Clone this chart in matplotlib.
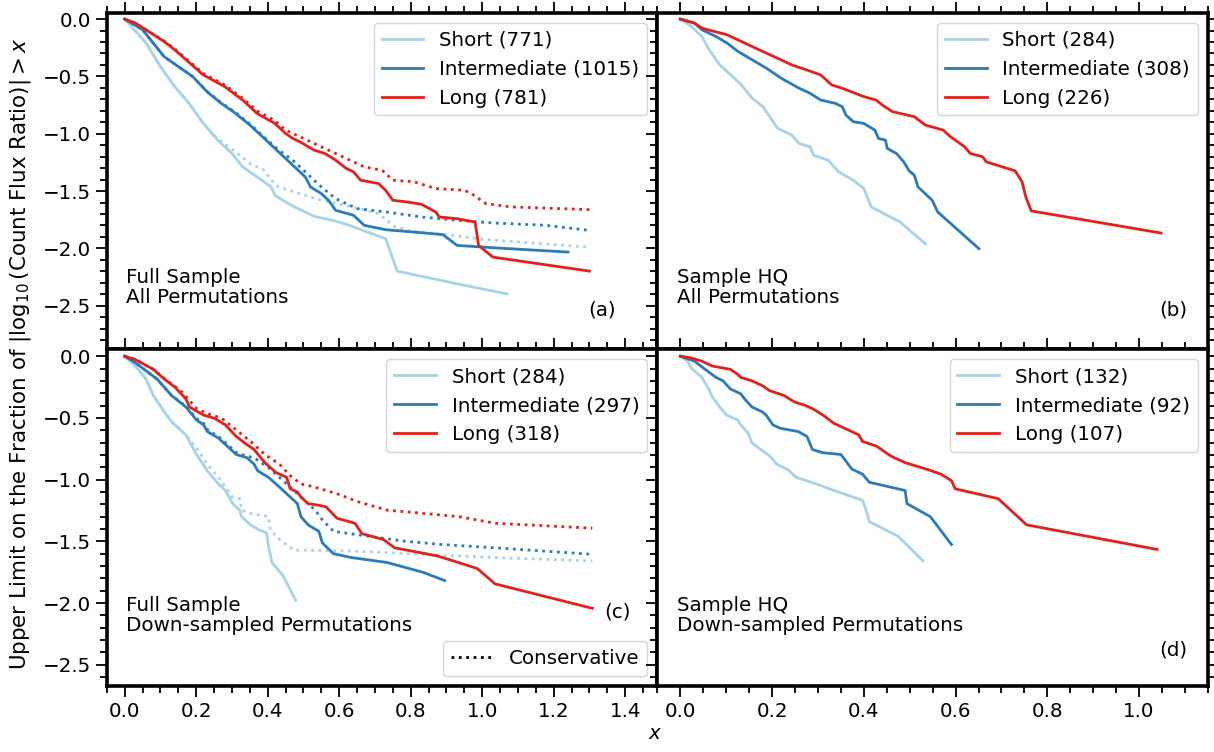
import numpy as np
import matplotlib
matplotlib.use('Agg')
import matplotlib.pyplot as plt
from matplotlib.ticker import MultipleLocator
from matplotlib.lines import Line2D

COL_S = '#a6d3e6'
COL_I = '#2b7bba'
COL_L = '#e3211c'

# ---- (a) Full sample, all permutations ----
a_short_x = [0, 0.06, 0.10, 0.14, 0.18, 0.22, 0.26, 0.30, 0.33, 0.37, 0.41, 0.42, 0.45, 0.475,
             0.53, 0.59, 0.63, 0.67, 0.73, 0.745, 0.762, 0.93, 1.07]
a_short_y = [0, -0.21, -0.414, -0.589, -0.735, -0.91, -1.055, -1.172, -1.289, -1.376, -1.464, -1.536,
             -1.595, -1.638, -1.72, -1.761, -1.80, -1.848, -1.915, -2.047, -2.198, -2.309, -2.397]
a_short_cx = [0, 0.06, 0.10, 0.14, 0.18, 0.22, 0.26, 0.31, 0.35, 0.39, 0.41, 0.43, 0.49, 0.55,
              0.63, 0.71, 0.755, 0.80, 0.90, 1.0, 1.30]
a_short_cy = [0, -0.21, -0.414, -0.589, -0.735, -0.91, -1.045, -1.157, -1.259, -1.318, -1.405, -1.464,
              -1.522, -1.58, -1.633, -1.697, -1.81, -1.85, -1.88, -1.92, -1.99]
a_int_x = [0, 0.05, 0.11, 0.15, 0.19, 0.23, 0.27, 0.31, 0.35, 0.39, 0.43, 0.47, 0.505, 0.52, 0.55,
           0.57, 0.59, 0.64, 0.67, 0.73, 0.83, 0.89, 0.93, 1.03, 1.24]
a_int_y = [0, -0.093, -0.327, -0.414, -0.501, -0.633, -0.735, -0.822, -0.924, -1.04, -1.157, -1.274,
           -1.376, -1.464, -1.522, -1.58, -1.668, -1.711, -1.799, -1.837, -1.863, -1.88, -1.974,
           -1.994, -2.032]
a_int_cx = [0, 0.05, 0.11, 0.15, 0.19, 0.23, 0.27, 0.31, 0.35, 0.39, 0.43, 0.47, 0.51, 0.55, 0.59,
            0.65, 0.73, 0.83, 0.93, 1.03, 1.18, 1.30]
a_int_cy = [0, -0.093, -0.327, -0.414, -0.501, -0.63, -0.73, -0.815, -0.915, -1.03, -1.14, -1.23,
            -1.347, -1.464, -1.566, -1.653, -1.682, -1.726, -1.755, -1.778, -1.799, -1.843]
a_long_x = [0, 0.03, 0.11, 0.14, 0.22, 0.28, 0.33, 0.37, 0.42, 0.45, 0.47, 0.49, 0.53, 0.56, 0.59,
            0.62, 0.64, 0.66, 0.71, 0.73, 0.75, 0.79, 0.83, 0.87, 0.88, 0.93, 0.98, 0.99, 1.03, 1.30]
a_long_y = [0, -0.035, -0.195, -0.268, -0.487, -0.589, -0.706, -0.822, -0.91, -0.997, -1.04, -1.07,
            -1.143, -1.172, -1.23, -1.303, -1.332, -1.405, -1.434, -1.493, -1.58, -1.595, -1.615,
            -1.682, -1.726, -1.741, -1.77, -1.974, -2.076, -2.198]
a_long_cx = [0, 0.03, 0.11, 0.14, 0.22, 0.28, 0.33, 0.37, 0.42, 0.45, 0.51, 0.57, 0.63, 0.67, 0.72,
             0.75, 0.81, 0.87, 0.95, 0.97, 1.01, 1.08, 1.30]
a_long_cy = [0, -0.035, -0.19, -0.26, -0.475, -0.575, -0.69, -0.80, -0.885, -0.968, -1.055, -1.143,
             -1.23, -1.289, -1.318, -1.405, -1.42, -1.478, -1.493, -1.522, -1.609, -1.638, -1.662]

# ---- (b) Sample HQ, all permutations ----
b_short_x = [0, 0.024, 0.047, 0.063, 0.086, 0.11, 0.133, 0.157, 0.18, 0.212, 0.243, 0.259, 0.283,
             0.29, 0.322, 0.345, 0.377, 0.40, 0.416, 0.479, 0.534]
b_short_y = [0, -0.064, -0.152, -0.268, -0.40, -0.487, -0.574, -0.691, -0.764, -0.953, -1.012,
             -1.085, -1.114, -1.187, -1.23, -1.332, -1.405, -1.478, -1.638, -1.77, -1.959]
b_int_x = [0, 0.031, 0.047, 0.078, 0.102, 0.126, 0.157, 0.188, 0.22, 0.259, 0.283, 0.306, 0.338,
           0.353, 0.361, 0.377, 0.40, 0.424, 0.432, 0.447, 0.451, 0.471, 0.487, 0.499, 0.51, 0.518,
           0.549, 0.561, 0.651]
b_int_y = [0, -0.035, -0.093, -0.152, -0.21, -0.283, -0.356, -0.429, -0.516, -0.603, -0.647, -0.706,
           -0.735, -0.764, -0.837, -0.895, -0.91, -0.968, -1.041, -1.055, -1.128, -1.172, -1.245,
           -1.324, -1.361, -1.464, -1.58, -1.682, -2.003]
b_long_x = [0, 0.031, 0.047, 0.102, 0.133, 0.18, 0.22, 0.243, 0.275, 0.306, 0.33, 0.353, 0.40,
            0.427, 0.44, 0.463, 0.51, 0.534, 0.573, 0.589, 0.62, 0.632, 0.659, 0.667, 0.73, 0.745,
            0.753, 0.765, 1.048]
b_long_y = [0, -0.035, -0.079, -0.137, -0.195, -0.283, -0.356, -0.40, -0.443, -0.487, -0.574,
            -0.603, -0.676, -0.706, -0.749, -0.808, -0.851, -0.924, -0.968, -1.026, -1.114, -1.172,
            -1.201, -1.245, -1.324, -1.42, -1.551, -1.673, -1.866]

# ---- (c) Full sample, down-sampled permutations ----
c_short_x = [0, 0.03, 0.06, 0.08, 0.111, 0.131, 0.171, 0.201, 0.231, 0.262, 0.282, 0.302, 0.322,
             0.327, 0.352, 0.372, 0.397, 0.402, 0.412, 0.443, 0.478]
c_short_y = [0, -0.08, -0.186, -0.318, -0.451, -0.531, -0.637, -0.796, -0.928, -1.034, -1.088,
             -1.194, -1.247, -1.30, -1.366, -1.401, -1.432, -1.538, -1.671, -1.777, -1.976]
c_short_cx = [0, 0.03, 0.06, 0.08, 0.111, 0.131, 0.171, 0.201, 0.231, 0.262, 0.302, 0.322, 0.327,
              0.352, 0.402, 0.407, 0.433, 0.473, 0.634, 0.835, 1.036, 1.308]
c_short_cy = [0, -0.08, -0.186, -0.318, -0.451, -0.531, -0.637, -0.743, -0.875, -0.981, -1.141,
              -1.154, -1.247, -1.273, -1.30, -1.406, -1.485, -1.57, -1.578, -1.605, -1.631, -1.658]
c_int_x = [0, 0.03, 0.091, 0.131, 0.171, 0.201, 0.221, 0.231, 0.262, 0.282, 0.312, 0.342, 0.362,
           0.372, 0.402, 0.423, 0.453, 0.483, 0.493, 0.513, 0.543, 0.553, 0.584, 0.634, 0.734,
           0.835, 0.895]
c_int_y = [0, -0.053, -0.186, -0.318, -0.411, -0.517, -0.557, -0.61, -0.663, -0.716, -0.796,
           -0.822, -0.875, -0.928, -0.981, -1.034, -1.114, -1.194, -1.30, -1.366, -1.419, -1.512,
           -1.60, -1.631, -1.671, -1.751, -1.817]
c_int_cx = [0, 0.03, 0.091, 0.131, 0.171, 0.201, 0.221, 0.231, 0.262, 0.282, 0.312, 0.342, 0.362,
            0.402, 0.453, 0.493, 0.533, 0.553, 0.584, 0.684, 0.785, 0.885, 1.036, 1.308]
c_int_cy = [0, -0.053, -0.186, -0.318, -0.405, -0.505, -0.545, -0.595, -0.65, -0.70, -0.78,
            -0.81, -0.822, -0.902, -1.034, -1.141, -1.247, -1.326, -1.419, -1.459, -1.499, -1.525,
            -1.552, -1.605]
c_long_x = [0, 0.03, 0.08, 0.111, 0.141, 0.171, 0.181, 0.221, 0.252, 0.282, 0.312, 0.342, 0.362,
            0.392, 0.423, 0.453, 0.463, 0.483, 0.493, 0.513, 0.543, 0.563, 0.594, 0.644, 0.664,
            0.724, 0.755, 0.875, 0.986, 1.036, 1.308]
c_long_y = [0, -0.027, -0.106, -0.186, -0.252, -0.345, -0.411, -0.477, -0.504, -0.557, -0.65,
            -0.716, -0.756, -0.862, -0.942, -0.981, -1.074, -1.10, -1.141, -1.194, -1.207, -1.22,
            -1.313, -1.353, -1.438, -1.485, -1.552, -1.618, -1.719, -1.844, -2.042]
c_long_cx = [0, 0.03, 0.08, 0.111, 0.141, 0.161, 0.201, 0.231, 0.272, 0.312, 0.352, 0.392, 0.433,
             0.463, 0.493, 0.533, 0.594, 0.654, 0.734, 0.835, 0.936, 1.036, 1.308]
c_long_cy = [0, -0.027, -0.106, -0.18, -0.245, -0.292, -0.424, -0.464, -0.504, -0.597, -0.69,
             -0.796, -0.875, -0.968, -1.034, -1.061, -1.114, -1.18, -1.247, -1.273, -1.30, -1.353,
             -1.393]

# ---- (d) Sample HQ, down-sampled permutations ----
d_short_x = [0, 0.016, 0.023, 0.047, 0.062, 0.070, 0.086, 0.101, 0.125, 0.132, 0.148, 0.156, 0.171,
             0.195, 0.21, 0.233, 0.253, 0.296, 0.335, 0.397, 0.405, 0.412, 0.475, 0.529]
d_short_y = [0, -0.04, -0.093, -0.172, -0.265, -0.332, -0.411, -0.477, -0.517, -0.557, -0.623,
             -0.703, -0.743, -0.809, -0.875, -0.915, -0.981, -1.034, -1.088, -1.167, -1.247, -1.34,
             -1.459, -1.658]
d_int_x = [0, 0.031, 0.054, 0.078, 0.093, 0.109, 0.132, 0.14, 0.156, 0.179, 0.187, 0.202, 0.218,
           0.257, 0.276, 0.288, 0.311, 0.35, 0.374, 0.397, 0.412, 0.49, 0.494, 0.545, 0.591]
d_int_y = [0, -0.04, -0.106, -0.172, -0.199, -0.265, -0.305, -0.345, -0.411, -0.451, -0.477,
           -0.557, -0.584, -0.61, -0.65, -0.756, -0.782, -0.796, -0.915, -0.955, -1.021, -1.088,
           -1.194, -1.30, -1.525]
d_long_x = [0, 0.023, 0.047, 0.07, 0.109, 0.125, 0.132, 0.156, 0.179, 0.195, 0.226, 0.249, 0.272,
            0.288, 0.311, 0.335, 0.366, 0.389, 0.397, 0.428, 0.459, 0.49, 0.537, 0.568, 0.591,
            0.599, 0.693, 0.755, 1.039]
d_long_y = [0, -0.013, -0.04, -0.08, -0.106, -0.146, -0.172, -0.199, -0.239, -0.279, -0.318,
            -0.371, -0.398, -0.424, -0.477, -0.544, -0.597, -0.637, -0.69, -0.729, -0.809, -0.862,
            -0.915, -0.955, -1.008, -1.074, -1.154, -1.366, -1.565]

counts = {'a': (771, 1015, 781), 'b': (284, 308, 226), 'c': (284, 297, 318), 'd': (132, 92, 107)}
samples = {'a': 'Full Sample\nAll Permutations', 'b': 'Sample HQ\nAll Permutations',
           'c': 'Full Sample\nDown-sampled Permutations', 'd': 'Sample HQ\nDown-sampled Permutations'}

FS = 14.3
plt.rcParams.update({'font.family': 'DejaVu Sans', 'font.size': FS})
LW = 2.0

fig = plt.figure(figsize=(12.14, 7.52), dpi=100)
gs = fig.add_gridspec(2, 2, left=0.088, right=0.995, top=0.983, bottom=0.088,
                      wspace=0, hspace=0)
axes = {'a': fig.add_subplot(gs[0, 0]), 'b': fig.add_subplot(gs[0, 1]),
        'c': fig.add_subplot(gs[1, 0]), 'd': fig.add_subplot(gs[1, 1])}

solid = {
    'a': [(a_short_x, a_short_y), (a_int_x, a_int_y), (a_long_x, a_long_y)],
    'b': [(b_short_x, b_short_y), (b_int_x, b_int_y), (b_long_x, b_long_y)],
    'c': [(c_short_x, c_short_y), (c_int_x, c_int_y), (c_long_x, c_long_y)],
    'd': [(d_short_x, d_short_y), (d_int_x, d_int_y), (d_long_x, d_long_y)],
}
conservative = {
    'a': [(a_short_cx, a_short_cy), (a_int_cx, a_int_cy), (a_long_cx, a_long_cy)],
    'c': [(c_short_cx, c_short_cy), (c_int_cx, c_int_cy), (c_long_cx, c_long_cy)],
}
names = ['Short', 'Intermediate', 'Long']
cols = [COL_S, COL_I, COL_L]

for key, ax in axes.items():
    for (xs, ys), col in zip(conservative.get(key, []), cols):
        ax.plot(xs, ys, ls=':', color=col, lw=LW)
    handles = []
    for (xs, ys), col, nm, n in zip(solid[key], cols, names, counts[key]):
        h, = ax.plot(xs, ys, '-', color=col, lw=LW, label=f'{nm} ({n})')
        handles.append(h)
    leg = ax.legend(handles=handles, loc='upper right', fontsize=FS, handlelength=2.1,
                    borderaxespad=0.5, handletextpad=0.8, labelspacing=0.5)
    if key == 'c':
        ax.add_artist(leg)
        ch = Line2D([], [], color='k', ls=':', lw=LW)
        ax.legend([ch], ['Conservative'], loc='lower right', fontsize=FS,
                  handlelength=2.1, handletextpad=0.8, borderaxespad=0.5)

    top = key in ('a', 'b')
    left = key in ('a', 'c')
    ax.set_xlim(-0.05, 1.49 if left else 1.15)
    ax.set_ylim((-2.88, 0.055) if top else (-2.67, 0.056))
    ax.xaxis.set_major_locator(MultipleLocator(0.2))
    ax.xaxis.set_minor_locator(MultipleLocator(0.05))
    ax.yaxis.set_major_locator(MultipleLocator(0.5))
    ax.yaxis.set_minor_locator(MultipleLocator(0.1))
    ax.tick_params(which='both', direction='out', top=True, right=True, width=1.3,
                   labelsize=FS, labelbottom=not top, labelleft=left)
    ax.tick_params(which='major', length=8)
    ax.tick_params(which='minor', length=5)
    for sp in ax.spines.values():
        sp.set_linewidth(2.6)

    ax.text(0.035, 0.125 if top else 0.15, samples[key], transform=ax.transAxes,
            ha='left', va='bottom', fontsize=FS, linespacing=1.1)

axes['a'].text(0.925, 0.09, '(a)', transform=axes['a'].transAxes, ha='right', va='bottom', fontsize=FS)
axes['b'].text(0.962, 0.09, '(b)', transform=axes['b'].transAxes, ha='right', va='bottom', fontsize=FS)
axes['c'].text(0.952, 0.19, '(c)', transform=axes['c'].transAxes, ha='right', va='bottom', fontsize=FS)
axes['d'].text(0.962, 0.077, '(d)', transform=axes['d'].transAxes, ha='right', va='bottom', fontsize=FS)

fig.text(0.017, 0.529, r'Upper Limit on the Fraction of $|\log_{10}$(Count Flux Ratio)$| > x$',
         rotation=90, ha='center', va='center', fontsize=15.4)
fig.text(0.54, 0.012, r'$x$', ha='center', va='bottom', fontsize=FS)

fig.savefig('out.png', dpi=100)
